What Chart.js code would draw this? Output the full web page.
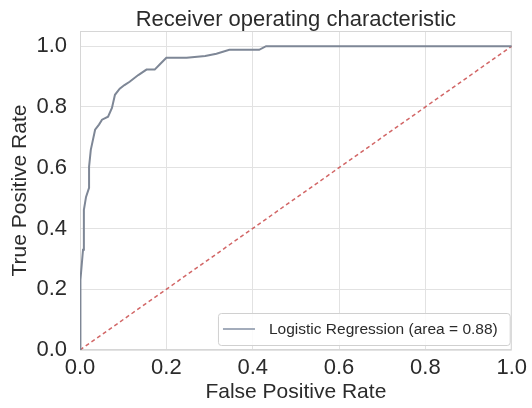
<!DOCTYPE html>
<html>
<head>
<meta charset="utf-8">
<script src="https://cdn.jsdelivr.net/npm/chart.js@4/dist/chart.umd.min.js"></script>
<style>
  html, body { margin: 0; padding: 0; background: #fff; }
  #wrap { width: 532px; height: 408px; position: relative; }
</style>
</head>
<body>
<div id="wrap"><canvas id="roc"></canvas></div>
<script>
// ROC curve values
const fpr = [0, 0, 0.002, 0.007, 0.009, 0.009, 0.014, 0.021, 0.021, 0.025, 0.035, 0.044, 0.051, 0.065, 0.074, 0.081, 0.092, 0.103, 0.115, 0.135, 0.154, 0.173, 0.184, 0.2, 0.247, 0.29, 0.316, 0.346, 0.415, 0.431, 1.0];
const tpr = [0, 0.198, 0.231, 0.33, 0.395, 0.461, 0.504, 0.534, 0.603, 0.659, 0.725, 0.742, 0.758, 0.768, 0.797, 0.84, 0.86, 0.872, 0.883, 0.905, 0.923, 0.923, 0.939, 0.962, 0.962, 0.968, 0.975, 0.988, 0.988, 1.0, 1.0];
const chanceX = [0, 1];
const chanceY = [0, 1];
const tickValues = [0, 0.2, 0.4, 0.6, 0.8, 1.0];
const curveLabel = 'Logistic Regression (area = 0.88)';

const FONT = '"Liberation Sans", Arial, sans-serif';
const TEXT = '#2b2b2b';
const GRID = '#e2e2e2';
const CURVE = '#7e8796';
const CHANCE = 'rgba(205, 85, 85, 0.9)';

function toPoints(xs, ys) {
    return xs.map((x, i) => ({ x: x, y: ys[i] }));
}

function keepTicks(scale) {
    scale.ticks = tickValues.map(v => ({ value: v }));
}

// light frame round the plot area
const frame = {
    id: 'frame',
    beforeDatasetsDraw(chart) {
        const { ctx, chartArea: a } = chart;
        ctx.save();
        ctx.strokeStyle = '#d6d6d6';
        ctx.lineWidth = 1;
        ctx.strokeRect(a.left + 0.5, a.top + 0.5, a.right - a.left - 1, a.bottom - a.top - 1);
        ctx.restore();
    },
};

// matplotlib style legend in the lower right corner
const insideLegend = {
    id: 'insideLegend',
    afterDraw(chart) {
        const { ctx, chartArea: a } = chart;
        const ds = chart.data.datasets[0];
        ctx.save();
        ctx.font = '15.5px ' + FONT;
        const tw = ctx.measureText(ds.label).width;
        const w = 5 + 32 + 14 + tw + 12;
        const h = 32;
        const right = a.right - 2;
        const bottom = a.bottom - 5;
        const left = right - w;
        const top = bottom - h;
        ctx.beginPath();
        ctx.roundRect(left + 0.5, top + 0.5, w, h, 3);
        ctx.fillStyle = 'rgba(255,255,255,0.85)';
        ctx.fill();
        ctx.strokeStyle = '#d0d0d0';
        ctx.lineWidth = 1;
        ctx.stroke();
        ctx.beginPath();
        ctx.moveTo(left + 5, top + h / 2);
        ctx.lineTo(left + 37, top + h / 2);
        ctx.strokeStyle = '#a3acbb';
        ctx.lineWidth = 2;
        ctx.stroke();
        ctx.fillStyle = TEXT;
        ctx.textBaseline = 'middle';
        ctx.fillText(ds.label, left + 51, top + h / 2 + 1);
        ctx.restore();
    },
};

new Chart(document.getElementById('roc'), {
    type: 'scatter',
    data: {
        datasets: [
            {
                label: curveLabel,
                data: toPoints(fpr, tpr),
                showLine: true,
                borderColor: CURVE,
                backgroundColor: CURVE,
                borderWidth: 2,
                pointRadius: 0,
                tension: 0,
            },
            {
                label: 'chance',
                data: toPoints(chanceX, chanceY),
                showLine: true,
                borderColor: CHANCE,
                borderWidth: 1.5,
                borderDash: [4, 3],
                pointRadius: 0,
            },
        ],
    },
    options: {
        responsive: true,
        maintainAspectRatio: false,
        animation: false,
        layout: { padding: { left: 0, right: 18, top: 0, bottom: 0 } },
        plugins: {
            legend: { display: false },
            tooltip: { enabled: false },
            title: {
                display: true,
                text: 'Receiver operating characteristic',
                color: TEXT,
                fullSize: false,
                font: { family: FONT, size: 22, weight: 'normal', lineHeight: 1 },
                padding: { top: 9, bottom: 0 },
            },
        },
        scales: {
            x: {
                type: 'linear',
                min: 0,
                max: 1,
                afterBuildTicks: keepTicks,
                afterFit: s => { s.height = 58; },
                grid: { color: GRID, drawTicks: false },
                border: { display: false },
                ticks: {
                    color: TEXT,
                    padding: 5,
                    maxRotation: 0,
                    autoSkip: false,
                    font: { family: FONT, size: 22 },
                    callback: v => v.toFixed(1),
                },
                title: {
                    display: true,
                    text: 'False Positive Rate',
                    color: TEXT,
                    font: { family: FONT, size: 21 },
                    padding: 3,
                },
            },
            y: {
                type: 'linear',
                min: 0,
                max: 1.05,
                afterBuildTicks: keepTicks,
                afterFit: s => { s.width = 80; },
                grid: { color: GRID, drawTicks: false },
                border: { display: false },
                ticks: {
                    color: TEXT,
                    padding: 13,
                    autoSkip: false,
                    font: { family: FONT, size: 22 },
                    callback: v => v.toFixed(1),
                },
                title: {
                    display: true,
                    text: 'True Positive Rate',
                    color: TEXT,
                    font: { family: FONT, size: 21 },
                    padding: 8,
                },
            },
        },
    },
    plugins: [frame, insideLegend],
});
</script>
</body>
</html>
